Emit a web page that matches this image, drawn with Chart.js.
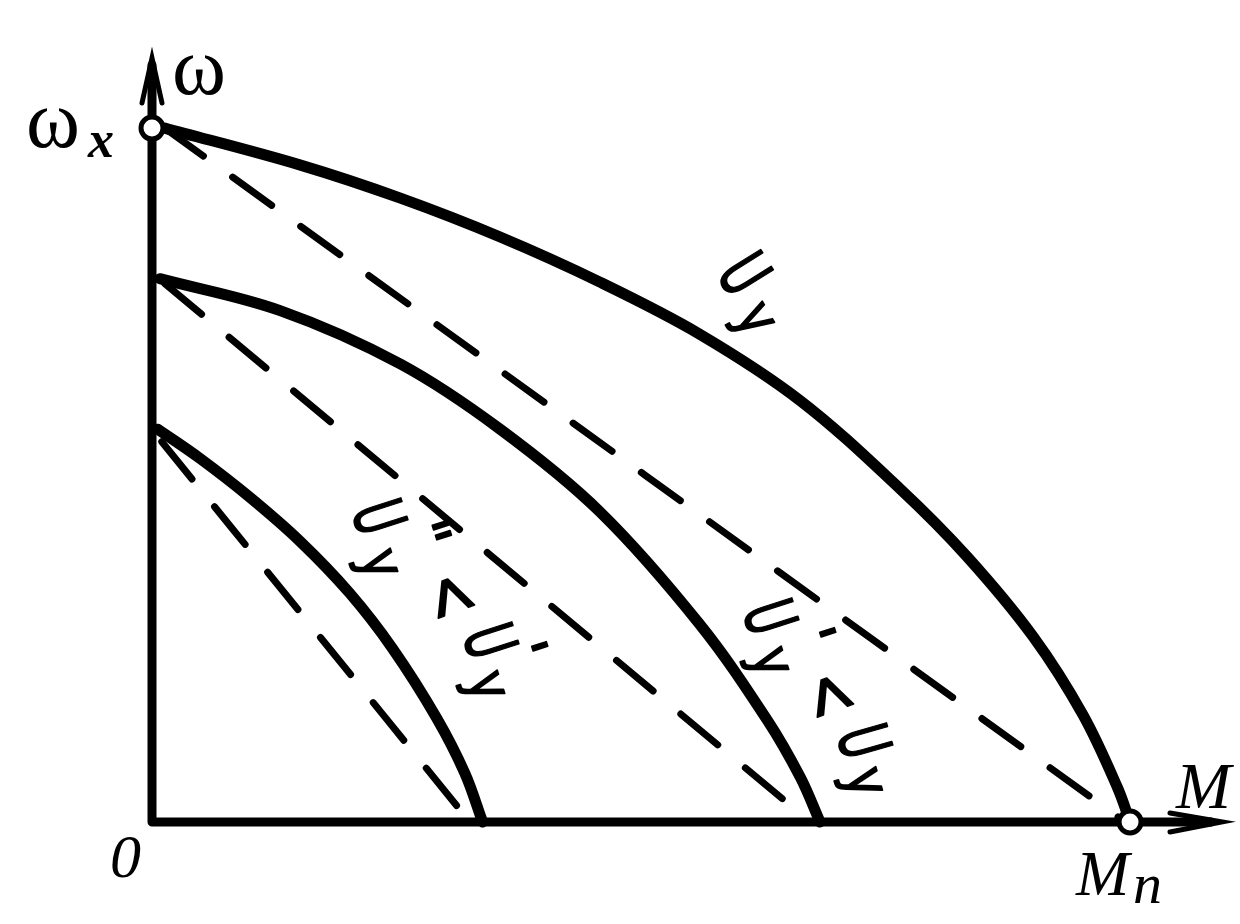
<!DOCTYPE html>
<html>
<head>
<meta charset="utf-8">
<script src="https://cdn.jsdelivr.net/npm/chart.js@4.4.1/dist/chart.umd.min.js"></script>
<style>
html,body{margin:0;padding:0;background:#fff;}
#wrap{width:1240px;height:924px;}
</style>
</head>
<body>
<div id="wrap"><canvas id="c" width="1240" height="924"></canvas></div>
<script>
// Normalised values: M / Mn on the x axis, ω / ωx on the y axis
const axisMax = { M: 1.094, W: 1.101 };

const topSolidM = [0.013, 0.151, 0.254, 0.356, 0.458, 0.560, 0.663, 0.765, 0.833, 0.901, 0.952, 0.987, 1.0];
const topSolidW = [1.0, 0.947, 0.899, 0.843, 0.778, 0.703, 0.607, 0.480, 0.383, 0.267, 0.154, 0.050, 0.0];

const topDashM = [0.013, 0.995];
const topDashW = [1.0, 0.0];

const midSolidM = [0.008, 0.131, 0.254, 0.356, 0.458, 0.560, 0.629, 0.663, 0.683];
const midSolidW = [0.783, 0.737, 0.660, 0.566, 0.447, 0.285, 0.147, 0.064, 0.0];

const midDashM = [0.013, 0.673];
const midDashW = [0.776, 0.0];

const lowSolidM = [0.006, 0.049, 0.100, 0.151, 0.202, 0.246, 0.291, 0.320, 0.338];
const lowSolidW = [0.566, 0.524, 0.468, 0.405, 0.330, 0.250, 0.150, 0.070, 0.0];

const lowDashM = [0.010, 0.151, 0.325];
const lowDashW = [0.548, 0.303, 0.0];

const markerM = [0.0, 1.0];
const markerW = [1.0, 0.0];

const pts = (xs, ys) => xs.map((x, i) => ({ x: x, y: ys[i] }));

const solid = (xs, ys) => ({
  data: pts(xs, ys), showLine: true, pointRadius: 0, borderColor: '#000',
  borderWidth: 11, tension: 0.35, clip: false,
  borderCapStyle: 'round', borderJoinStyle: 'round'
});
const dashed = (xs, ys) => ({
  data: pts(xs, ys), showLine: true, pointRadius: 0, borderColor: '#000',
  borderWidth: 7, borderDash: [48, 36], borderCapStyle: 'round',
  tension: 0.3, clip: false
});

const labelPlugin = {
  id: 'labels',
  afterDatasetsDraw(chart) {
    const ctx = chart.ctx;
    const xs = chart.scales.x, ys = chart.scales.y;
    const ox = xs.getPixelForValue(0), oy = ys.getPixelForValue(0);
    const tipY = ys.getPixelForValue(axisMax.W), tipX = xs.getPixelForValue(axisMax.M);
    ctx.save();
    ctx.strokeStyle = '#000';
    ctx.fillStyle = '#000';
    ctx.lineWidth = 5;
    ctx.lineCap = 'round';
    // y arrow
    ctx.beginPath();
    ctx.moveTo(ox - 10, tipY + 45); ctx.lineTo(ox, tipY); ctx.lineTo(ox + 10, tipY + 45);
    ctx.stroke();
    ctx.beginPath();
    ctx.moveTo(ox - 5, tipY + 28); ctx.lineTo(ox, tipY); ctx.lineTo(ox + 5, tipY + 28); ctx.closePath(); ctx.fill();
    // x arrow
    ctx.beginPath();
    ctx.moveTo(tipX - 52, oy - 9); ctx.lineTo(tipX, oy); ctx.lineTo(tipX - 52, oy + 10);
    ctx.stroke();
    ctx.beginPath();
    ctx.moveTo(tipX - 30, oy - 5); ctx.lineTo(tipX, oy); ctx.lineTo(tipX - 30, oy + 5); ctx.closePath(); ctx.fill();

    // axis letters
    ctx.textAlign = 'left';
    ctx.textBaseline = 'alphabetic';
    ctx.font = '82px "Liberation Serif"';
    ctx.fillText('ω', 172, 94);
    ctx.fillText('ω', 26, 147);
    ctx.font = 'italic bold 52px "Liberation Serif"';
    ctx.fillText('x', 88, 157);
    ctx.font = 'italic 62px "Liberation Serif"';
    ctx.fillText('0', 110, 877);
    ctx.font = 'italic 66px "Liberation Serif"';
    ctx.fillText('M', 1176, 808);
    ctx.font = 'italic 64px "Liberation Serif"';
    ctx.fillText('M', 1076, 895);
    ctx.font = 'italic 58px "Liberation Serif"';
    ctx.fillText('n', 1133, 903);

    // rotated, hand-lettered curve labels (glyph by glyph)
    const F = '"DejaVu Sans"';
    const glyph = (t, cx, cy, ang, size, sx) => {
      ctx.save();
      ctx.translate(cx, cy);
      ctx.rotate(ang * Math.PI / 180);
      ctx.scale(sx, 1);
      ctx.font = size + 'px ' + F;
      ctx.textAlign = 'center';
      ctx.textBaseline = 'middle';
      ctx.lineWidth = 1.8;
      ctx.lineJoin = 'round';
      ctx.fillText(t, 0, 0);
      ctx.strokeText(t, 0, 0);
      ctx.restore();
    };
    // label "Uу"
    glyph('U', 739, 277, 58, 70, 0.62);
    glyph('у', 754, 320, 60, 58, 0.8);
    // label "U″у < U′у"
    glyph('U', 373, 519, 72, 70, 0.6);
    glyph('"', 424, 536, 72, 56, 1);
    glyph('у', 378, 565, 72, 58, 0.8);
    glyph('<', 447, 597, 70, 72, 0.75);
    glyph('U', 484, 643, 72, 70, 0.6);
    glyph("'", 522, 652, 72, 56, 1);
    glyph('у', 485, 687, 72, 58, 0.8);
    // label "U′у < Uу"
    glyph('U', 764, 619, 72, 70, 0.6);
    glyph("'", 810, 638, 72, 56, 1);
    glyph('у', 769, 663, 72, 58, 0.8);
    glyph('<', 826, 696, 70, 72, 0.75);
    glyph('U', 858, 743, 74, 70, 0.6);
    glyph('у', 863, 783, 74, 58, 0.8);
    ctx.restore();
  }
};

new Chart(document.getElementById('c'), {
  type: 'scatter',
  data: {
    datasets: [
      { data: pts(markerM, markerW), pointRadius: 11, pointHoverRadius: 11, pointBackgroundColor: '#fff',
        pointBorderColor: '#000', pointBorderWidth: 5, showLine: false, clip: false },
      solid(topSolidM, topSolidW),
      dashed(topDashM, topDashW),
      solid(midSolidM, midSolidW),
      dashed(midDashM, midDashW),
      solid(lowSolidM, lowSolidW),
      dashed(lowDashM, lowDashW),
      { data: [{ x: 0, y: axisMax.W - 0.01 }, { x: 0, y: 0 }, { x: axisMax.M - 0.01, y: 0 }], showLine: true,
        pointRadius: 0, borderColor: '#000', borderWidth: 9, borderJoinStyle: 'round', clip: false }
    ]
  },
  options: {
    responsive: false,
    animation: false,
    events: [],
    layout: { padding: { left: 152, right: 18, top: 58, bottom: 102 } },
    plugins: { legend: { display: false }, tooltip: { enabled: false } },
    scales: {
      x: { type: 'linear', min: 0, max: axisMax.M, display: false },
      y: { type: 'linear', min: 0, max: axisMax.W, display: false }
    }
  },
  plugins: [labelPlugin]
});
</script>
</body>
</html>
